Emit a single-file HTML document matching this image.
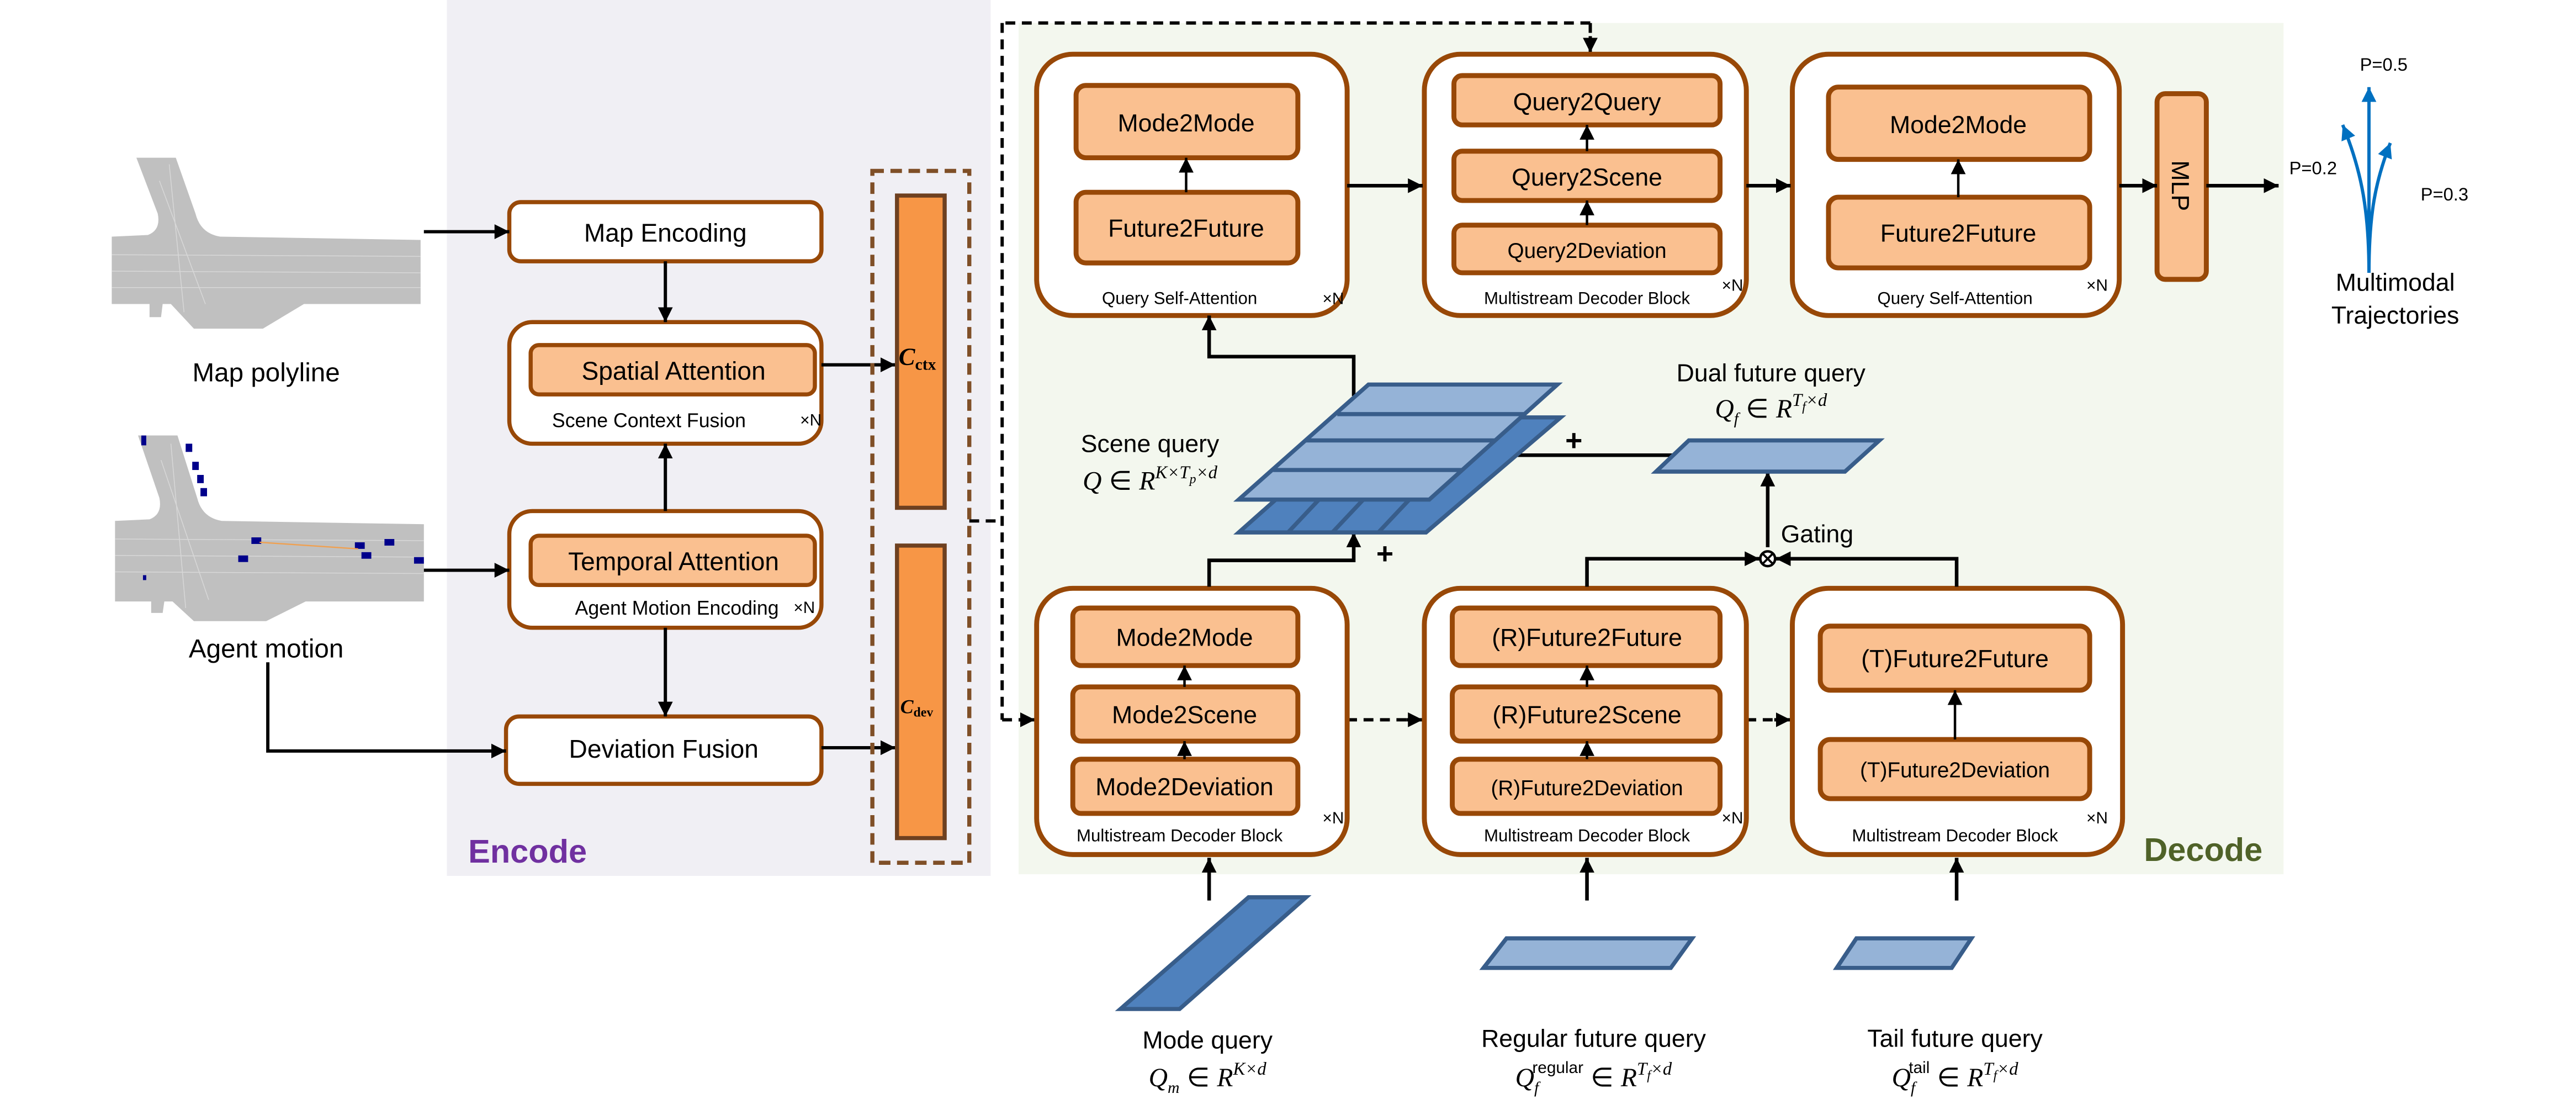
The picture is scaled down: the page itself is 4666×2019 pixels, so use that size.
<!DOCTYPE html>
<html><head><meta charset="utf-8"><style>
html,body{margin:0;padding:0;background:#fff}
svg{display:block}
text{font-family:"Liberation Sans",sans-serif;fill:#000}
.m{font-family:"Liberation Serif",serif;font-style:italic}
</style></head><body>
<svg width="4666" height="2019" viewBox="0 0 1568 678.5" xmlns="http://www.w3.org/2000/svg">
<defs>
<marker id="a" viewBox="0 0 10 10" refX="10" refY="5" markerWidth="9" markerHeight="9" markerUnits="userSpaceOnUse" orient="auto"><path d="M0,0L10,5L0,10z" fill="#000"/></marker>
<marker id="b" viewBox="0 0 10 10" refX="10" refY="5" markerWidth="9" markerHeight="9" markerUnits="userSpaceOnUse" orient="auto"><path d="M0,0L10,5L0,10z" fill="#0070c0"/></marker>
</defs>
<rect x="0" y="0" width="1568" height="678.5" fill="#fff"/>
<rect x="272" y="0" width="331" height="533" fill="#f0eff4"/>
<rect x="620" y="14" width="770" height="518" fill="#f3f7ee"/>
<text x="285" y="525" font-size="20" font-weight="bold" style="fill:#7030a0">Encode</text>
<text x="1305" y="524" font-size="20" font-weight="bold" style="fill:#4f6228">Decode</text>

<!-- map images -->
<g fill="#c0c0c0">
<path d="M83,96L107,96L119,130Q122,142 134,144L256,146L256,185L185,185L160,200L118,200L104,185L99,185L98,193L91,193L91,185L68,185L68,144L90,143Q98,140 96,130z"/>
<path d="M84,265L108,265L120,303Q123,315 135,317L258,319L258,366L186,366L162,378L118,378L105,366L100,366L99,373L92,373L92,366L70,366L70,317L91,316Q99,313 97,303z"/>
</g>
<g stroke="#d8d8d8" stroke-width="0.5" fill="none">
<path d="M68,155L256,156M68,165L256,166M68,175L256,175M97,110L125,185M103,100L112,190"/>
<path d="M70,328L258,329M70,338L258,339M70,348L258,349M98,280L127,365M104,270L113,370"/>
</g>
<g fill="#00008b">
<rect x="86" y="265" width="3" height="6"/><rect x="113" y="270" width="4" height="5"/><rect x="117" y="281" width="4" height="5"/><rect x="120" y="289" width="4" height="5"/><rect x="122" y="297" width="4" height="5"/>
<rect x="153" y="327" width="6" height="4"/><rect x="145" y="338" width="6" height="4"/><rect x="216" y="330" width="6" height="4"/><rect x="220" y="336" width="6" height="4"/><rect x="234" y="328" width="6" height="4"/><rect x="252" y="339" width="6" height="4"/><rect x="87" y="350" width="2" height="3"/>
</g>
<line x1="158" y1="330" x2="218" y2="334" stroke="#f0a050" stroke-width="0.8"/>
<text x="162" y="232" font-size="16" text-anchor="middle">Map polyline</text>
<text x="162" y="400" font-size="16" text-anchor="middle">Agent motion</text>

<!-- encoder -->
<g stroke="#984807" stroke-width="2.5" fill="#fff">
<rect x="310" y="123" width="190" height="36" rx="7"/>
<rect x="310" y="196" width="190" height="74" rx="14"/>
<rect x="310" y="311" width="190" height="71" rx="14"/>
<rect x="308" y="436" width="192" height="41" rx="8"/>
</g>
<g stroke="#984807" stroke-width="2.5" fill="#fac090">
<rect x="323" y="210" width="173" height="30" rx="5"/>
<rect x="323" y="326" width="173" height="30" rx="5"/>
</g>
<text x="405" y="147" font-size="15.5" text-anchor="middle">Map Encoding</text>
<text x="410" y="231" font-size="15.5" text-anchor="middle">Spatial Attention</text>
<text x="395" y="260" font-size="12" text-anchor="middle">Scene Context Fusion</text>
<text x="487" y="259" font-size="10">×N</text>
<text x="410" y="347" font-size="15.5" text-anchor="middle">Temporal Attention</text>
<text x="412" y="374" font-size="12" text-anchor="middle">Agent Motion Encoding</text>
<text x="483" y="373" font-size="10">×N</text>
<text x="404" y="461" font-size="15.5" text-anchor="middle">Deviation Fusion</text>

<g stroke="#000" stroke-width="2" fill="none" marker-end="url(#a)">
<line x1="258" y1="141" x2="310" y2="141"/>
<line x1="258" y1="347" x2="310" y2="347"/>
<polyline points="163,403 163,457 308,457"/>
<line x1="405" y1="159" x2="405" y2="196"/>
<line x1="405" y1="311" x2="405" y2="270"/>
<line x1="405" y1="382" x2="405" y2="436"/>
<line x1="500" y1="222" x2="545" y2="222"/>
<line x1="500" y1="455" x2="545" y2="455"/>
</g>
<rect x="531" y="104" width="59" height="421" fill="none" stroke="#7f4f27" stroke-width="2.5" stroke-dasharray="7,4"/>
<rect x="546" y="119" width="29" height="190" fill="#f79646" stroke="#6e4020" stroke-width="2.5"/>
<rect x="546" y="332" width="29" height="178" fill="#f79646" stroke="#6e4020" stroke-width="2.5"/>
<text x="547" y="222" class="m" font-size="15" font-weight="bold">C<tspan font-size="10" font-style="normal" dy="3">ctx</tspan></text>
<text x="548" y="434" class="m" font-size="12" font-weight="bold">C<tspan font-size="8" font-style="normal" dy="2">dev</tspan></text>

<!-- dashed connectors -->
<g stroke="#000" stroke-width="2" fill="none" stroke-dasharray="6,4">
<polyline points="590,317 610,317"/>
<line x1="610" y1="14" x2="610" y2="438"/>
<line x1="612" y1="14" x2="968" y2="14"/>
<line x1="968" y1="14" x2="968" y2="24"/>
<line x1="610" y1="438" x2="622" y2="438"/>
<line x1="820" y1="438" x2="858" y2="438"/>
<line x1="1063" y1="438" x2="1082" y2="438"/>
</g>
<g stroke="#000" stroke-width="2" fill="none" marker-end="url(#a)">
<line x1="968" y1="22" x2="968" y2="32"/>
<line x1="620" y1="438" x2="630" y2="438"/>
<line x1="856" y1="438" x2="866" y2="438"/>
<line x1="1080" y1="438" x2="1090" y2="438"/>
</g>

<!-- decoder outer blocks -->
<g stroke="#984807" stroke-width="3" fill="#fff">
<rect x="631" y="33" width="189" height="159" rx="22"/>
<rect x="867" y="33" width="196" height="159" rx="22"/>
<rect x="1091" y="33" width="199" height="159" rx="22"/>
<rect x="631" y="358" width="189" height="162" rx="22"/>
<rect x="867" y="358" width="196" height="162" rx="22"/>
<rect x="1091" y="358" width="201" height="162" rx="22"/>
</g>
<g stroke="#984807" stroke-width="3" fill="#fac090">
<rect x="655" y="52" width="135" height="44" rx="6"/>
<rect x="655" y="117" width="135" height="43" rx="6"/>
<rect x="885" y="46" width="162" height="30" rx="5"/>
<rect x="885" y="92" width="162" height="30" rx="5"/>
<rect x="885" y="137" width="162" height="29" rx="5"/>
<rect x="1113" y="53" width="159" height="44" rx="6"/>
<rect x="1113" y="120" width="159" height="43" rx="6"/>
<rect x="1313" y="57" width="30" height="113" rx="5"/>
<rect x="653" y="370" width="137" height="35" rx="5"/>
<rect x="653" y="418" width="137" height="33" rx="5"/>
<rect x="653" y="462" width="137" height="33" rx="5"/>
<rect x="884" y="370" width="163" height="35" rx="5"/>
<rect x="884" y="418" width="163" height="33" rx="5"/>
<rect x="884" y="462" width="163" height="33" rx="5"/>
<rect x="1108" y="381" width="164" height="39" rx="6"/>
<rect x="1108" y="450" width="164" height="36" rx="6"/>
</g>
<g font-size="15" text-anchor="middle">
<text x="722" y="80">Mode2Mode</text>
<text x="722" y="144">Future2Future</text>
<text x="966" y="67">Query2Query</text>
<text x="966" y="113">Query2Scene</text>
<text x="966" y="157" font-size="13">Query2Deviation</text>
<text x="1192" y="81">Mode2Mode</text>
<text x="1192" y="147">Future2Future</text>
<text x="721" y="393">Mode2Mode</text>
<text x="721" y="440">Mode2Scene</text>
<text x="721" y="484">Mode2Deviation</text>
<text x="966" y="393">(R)Future2Future</text>
<text x="966" y="440">(R)Future2Scene</text>
<text x="966" y="484" font-size="13">(R)Future2Deviation</text>
<text x="1190" y="406">(T)Future2Future</text>
<text x="1190" y="473" font-size="13">(T)Future2Deviation</text>
</g>
<g font-size="10.5" text-anchor="middle">
<text x="718" y="185">Query Self-Attention</text>
<text x="966" y="185">Multistream Decoder Block</text>
<text x="1190" y="185">Query Self-Attention</text>
<text x="718" y="512">Multistream Decoder Block</text>
<text x="966" y="512">Multistream Decoder Block</text>
<text x="1190" y="512">Multistream Decoder Block</text>
</g>
<g font-size="10">
<text x="805" y="185">×N</text><text x="1048" y="177">×N</text><text x="1270" y="177">×N</text>
<text x="805" y="501">×N</text><text x="1048" y="501">×N</text><text x="1270" y="501">×N</text>
</g>
<text x="0" y="0" font-size="15" text-anchor="middle" transform="translate(1322,113) rotate(90)">MLP</text>

<g stroke="#000" stroke-width="1.5" fill="none" marker-end="url(#a)">
<line x1="722" y1="117" x2="722" y2="96"/>
<line x1="966" y1="92" x2="966" y2="76"/>
<line x1="966" y1="137" x2="966" y2="122"/>
<line x1="1192" y1="120" x2="1192" y2="97"/>
<line x1="721" y1="418" x2="721" y2="405"/>
<line x1="721" y1="462" x2="721" y2="451"/>
<line x1="966" y1="418" x2="966" y2="405"/>
<line x1="966" y1="462" x2="966" y2="451"/>
<line x1="1190" y1="450" x2="1190" y2="420"/>
</g>
<g stroke="#000" stroke-width="2.2" fill="none" marker-end="url(#a)">
<line x1="820" y1="113" x2="866" y2="113"/>
<line x1="1063" y1="113" x2="1090" y2="113"/>
<line x1="1290" y1="113" x2="1313" y2="113"/>
<line x1="1343" y1="113" x2="1387" y2="113"/>
<polyline points="824,241 824,217 736,217 736,192"/>
<polyline points="736,357 736,341 824,341 824,324"/>
<line x1="1076" y1="333" x2="1076" y2="287"/>
<polyline points="966,357 966,340 1071,340"/>
<polyline points="1191,357 1191,340 1081,340"/>
<line x1="1019" y1="277" x2="899" y2="277"/>
<line x1="736" y1="548" x2="736" y2="522"/>
<line x1="966" y1="548" x2="966" y2="522"/>
<line x1="1191" y1="548" x2="1191" y2="522"/>
</g>
<circle cx="1076" cy="340" r="4.5" fill="#fff" stroke="#000" stroke-width="1.5"/>
<path d="M1073,337L1079,343M1079,337L1073,343" stroke="#000" stroke-width="1.3"/>
<text x="1084" y="330" font-size="15">Gating</text>

<!-- scene query stack -->
<g stroke="#385d8a" stroke-width="2.5">
<path d="M833,254L950,254L868,324L754,324z" fill="#4f81bd"/>
<path d="M784,324L850,254M811,324L877,254M839,324L905,254" fill="none"/>
<path d="M833,234L948,234L870,304L754,304z" fill="#95b3d7"/>
<path d="M814,252L929,252M795,268L910,268M775,286L890,286" fill="none"/>
<path d="M1028,268L1144,268L1123,287L1008,287z" fill="#95b3d7"/>
<path d="M760,546L795,546L718,614L682,614z" fill="#4f81bd"/>
<path d="M917,571L1030,571L1017,589L903,589z" fill="#95b3d7"/>
<path d="M1130,571L1200,571L1188,589L1118,589z" fill="#95b3d7"/>
</g>
<text x="958" y="274" font-size="18" font-weight="bold" text-anchor="middle">+</text>
<text x="843" y="343" font-size="18" font-weight="bold" text-anchor="middle">+</text>

<text x="700" y="275" font-size="15" text-anchor="middle">Scene query</text>
<text x="700" y="298" font-size="16" text-anchor="middle"><tspan class="m">Q</tspan> ∈ <tspan class="m">R</tspan><tspan class="m" font-size="11" dy="-7">K×T<tspan font-size="8" dy="3">p</tspan><tspan dy="-3">×d</tspan></tspan></text>
<text x="1078" y="232" font-size="15" text-anchor="middle">Dual future query</text>
<text x="1078" y="254" font-size="16" text-anchor="middle"><tspan class="m">Q<tspan font-size="10" dy="4">f</tspan></tspan><tspan dy="-4"> ∈ </tspan><tspan class="m">R</tspan><tspan class="m" font-size="11" dy="-7">T<tspan font-size="8" dy="3">f</tspan><tspan dy="-3">×d</tspan></tspan></text>
<text x="735" y="638" font-size="15" text-anchor="middle">Mode query</text>
<text x="735" y="661" font-size="16" text-anchor="middle"><tspan class="m">Q<tspan font-size="10" dy="4">m</tspan></tspan><tspan dy="-4"> ∈ </tspan><tspan class="m">R</tspan><tspan class="m" font-size="11" dy="-7">K×d</tspan></text>
<text x="970" y="637" font-size="15" text-anchor="middle">Regular future query</text>
<text x="970" y="661" font-size="16" text-anchor="middle"><tspan class="m">Q<tspan font-size="10" dy="4">f</tspan></tspan><tspan font-size="10" dx="-4" dy="-12">regular</tspan><tspan dy="8"> ∈ </tspan><tspan class="m">R</tspan><tspan class="m" font-size="11" dy="-7">T<tspan font-size="8" dy="3">f</tspan><tspan dy="-3">×d</tspan></tspan></text>
<text x="1190" y="637" font-size="15" text-anchor="middle">Tail future query</text>
<text x="1190" y="661" font-size="16" text-anchor="middle"><tspan class="m">Q<tspan font-size="10" dy="4">f</tspan></tspan><tspan font-size="10" dx="-4" dy="-12">tail</tspan><tspan dy="8"> ∈ </tspan><tspan class="m">R</tspan><tspan class="m" font-size="11" dy="-7">T<tspan font-size="8" dy="3">f</tspan><tspan dy="-3">×d</tspan></tspan></text>

<!-- trajectories -->
<g stroke="#0070c0" stroke-width="2" fill="none" marker-end="url(#b)">
<line x1="1442" y1="166" x2="1442" y2="53"/>
<path d="M1442,166C1442,130 1438,105 1426,76"/>
<path d="M1442,166C1442,130 1446,110 1455,87"/>
</g>
<text x="1451" y="43" font-size="11" text-anchor="middle">P=0.5</text>
<text x="1408" y="106" font-size="11" text-anchor="middle">P=0.2</text>
<text x="1488" y="122" font-size="11" text-anchor="middle">P=0.3</text>
<text x="1458" y="177" font-size="15" text-anchor="middle">Multimodal</text>
<text x="1458" y="197" font-size="15" text-anchor="middle">Trajectories</text>
</svg>
</body></html>
